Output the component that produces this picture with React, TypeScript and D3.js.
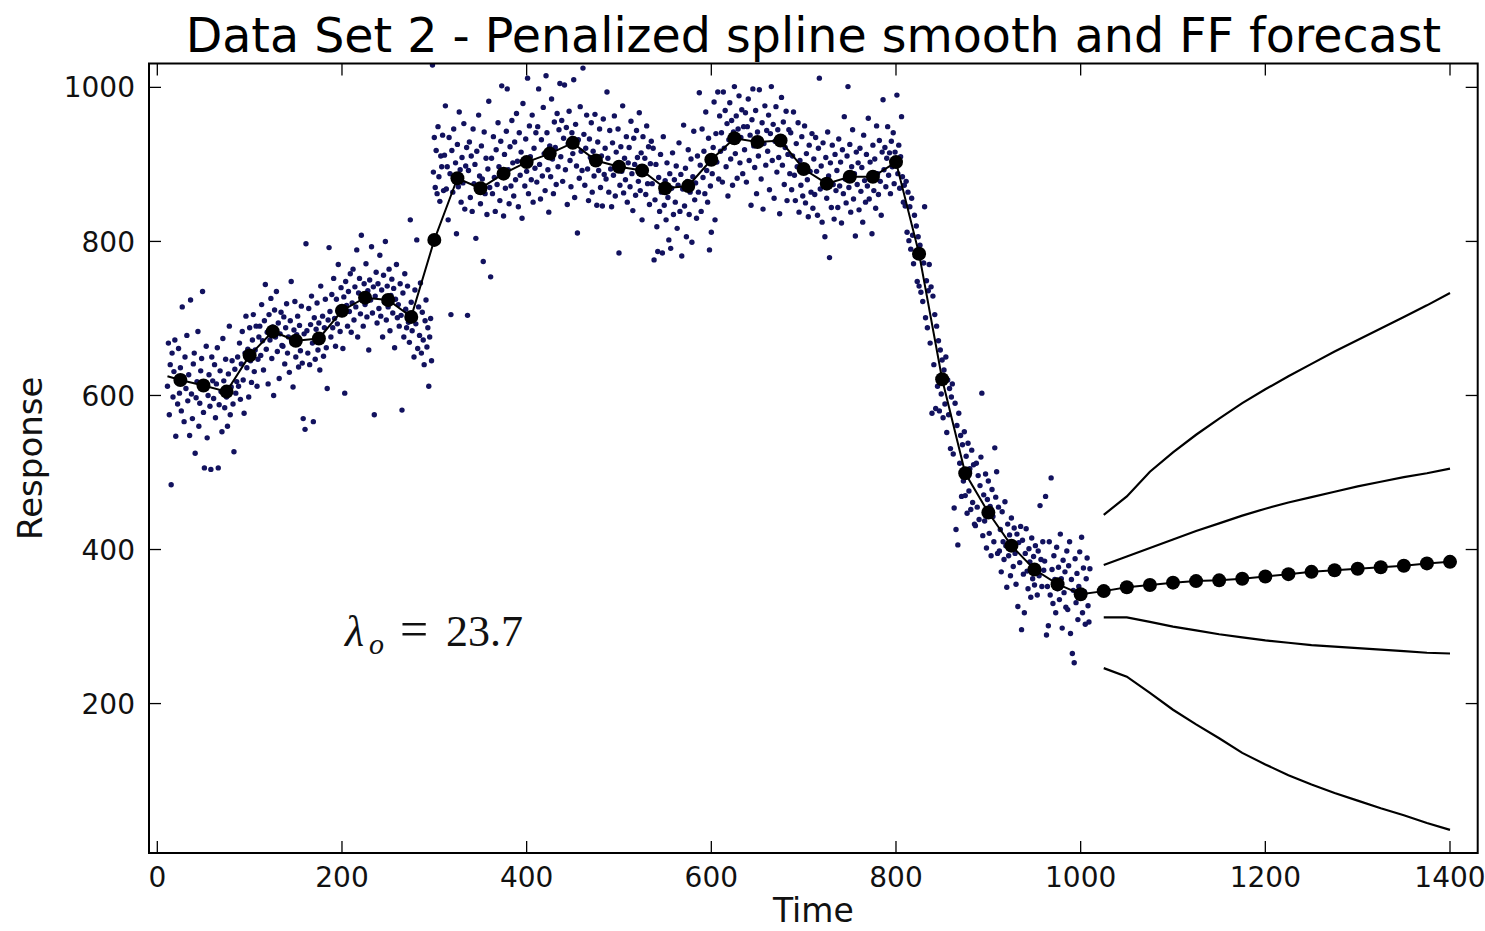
import React from 'react';
import * as d3 from 'd3';

// chart text
const TITLE = 'Data Set 2 - Penalized spline smooth and FF forecast';
const X_LABEL = 'Time';
const Y_LABEL = 'Response';
const LAMBDA_VALUE = '23.7';

// axes
const X_DOMAIN = [-9, 1430];
const Y_DOMAIN = [6, 1031];
const X_TICKS = [0, 200, 400, 600, 800, 1000, 1200, 1400];
const Y_TICKS = [200, 400, 600, 800, 1000];

// observed responses, one per time unit starting at OBS_FIRST_TIME
const OBS_FIRST_TIME = 11;
const responseObs = [
  612, 668, 575, 640, 484, 655, 598, 631, 672, 547, 620, 589, 661, 603, 636, 580, 715, 624, 566, 650, 609, 678, 593, 627, 548,
  724, 602, 570, 641, 655, 525, 597, 618, 683, 560, 590, 632, 648, 735, 578, 506, 612, 664, 545, 600, 627, 586, 504, 650, 619,
  596, 640, 571, 615, 662, 506, 588, 632, 605, 553, 674, 619, 584, 647, 598, 560, 628, 690, 575, 611, 645, 589, 527, 634, 603,
  618, 650, 612, 668, 595, 641, 683, 620, 577, 655, 703, 636, 660, 598, 688, 645, 617, 672, 705, 631, 659, 690, 612, 647, 676,
  690, 652, 718, 671, 633, 697, 744, 660, 682, 615, 705, 672, 726, 648, 689, 600, 711, 676, 735, 657, 694, 622, 680, 708, 665,
  664, 702, 641, 688, 719, 655, 676, 630, 697, 748, 668, 611, 685, 722, 650, 679, 703, 637, 691, 658, 716, 642, 570, 680, 556,
  797, 684, 655, 713, 640, 692, 729, 668, 566, 701, 647, 686, 720, 659, 694, 633, 742, 677, 703, 651, 688, 725, 662, 609, 698,
  792, 709, 676, 731, 688, 752, 700, 664, 725, 693, 770, 712, 683, 740, 705, 661, 728, 603, 748, 717, 690, 735, 709, 758, 682,
  720, 764, 698, 741, 715, 789, 676, 733, 752, 706, 808, 727, 690, 745, 718, 771, 702, 736, 659, 750, 724, 793, 707, 741, 575,
  729, 760, 694, 745, 713, 782, 703, 737, 676, 756, 721, 800, 698, 742, 715, 764, 684, 730, 751, 707, 739, 662, 725, 770, 701,
  718, 690, 745, 704, 581, 733, 676, 758, 712, 688, 742, 695, 669, 828, 721, 684, 705, 650, 737, 693, 802, 661, 715, 678, 746,
  655, 708, 672, 640, 697, 724, 663, 688, 612, 676, 700, 645, 1029, 890, 935, 870, 918, 862, 949, 884, 852, 911, 897, 938, 866,
  912, 976, 868, 897, 828, 935, 888, 705, 918, 864, 946, 880, 902, 810, 926, 871, 968, 893, 851, 909, 876, 953, 842, 898, 922,
  704, 892, 929, 857, 911, 839, 946, 875, 900, 804, 917, 868, 964, 885, 849, 924, 881, 774, 942, 862, 908, 835, 894, 982, 870,
  754, 908, 862, 936, 883, 839, 919, 874, 954, 897, 853, 930, 1002, 888, 833, 913, 869, 943, 998, 893, 849, 923, 872, 957, 902,
  859, 929, 880, 966, 904, 845, 941, 886, 916, 830, 979, 902, 872, 933, 891, 1012, 862, 950, 910, 880, 964, 851, 921, 895, 941,
  877, 949, 998, 900, 855, 932, 885, 974, 914, 866, 1015, 941, 893, 838, 924, 884, 985, 907, 862, 955, 922, 874, 966, 897, 945,
  1005, 910, 957, 878, 934, 1003, 893, 948, 848, 927, 969, 905, 871, 941, 914, 1010, 857, 952, 898, 811, 932, 882, 975, 917, 892,
  1025, 939, 873, 921, 964, 894, 853, 933, 909, 954, 864, 917, 885, 965, 902, 847, 929, 892, 946, 870, 911, 846, 959, 887, 921,
  881, 994, 908, 864, 944, 894, 845, 928, 886, 963, 859, 916, 901, 946, 785, 873, 923, 891, 976, 863, 908, 880, 936, 851, 902,
  922, 871, 956, 888, 840, 934, 900, 860, 944, 909, 878, 967, 866, 915, 828, 936, 891, 908, 861, 950, 875, 923, 848, 901, 930,
  875, 921, 776, 854, 900, 819, 787, 883, 839, 913, 864, 785, 936, 847, 879, 828, 902, 857, 802, 888, 791, 869, 915, 835, 880,
  851, 898, 817, 873, 928, 839, 887, 781, 868, 951, 846, 895, 806, 878, 919, 835, 864, 907, 799, 884, 943, 854, 876, 830, 911,
  864, 993, 899, 839, 946, 883, 917, 862, 968, 892, 851, 934, 789, 872, 812, 888, 922, 981, 828, 940, 903, 994, 881, 963, 917,
  941, 877, 994, 921, 970, 897, 953, 859, 932, 980, 907, 957, 873, 942, 1001, 914, 963, 882, 946, 989, 902, 935, 971, 888, 949,
  919, 967, 877, 949, 985, 905, 938, 847, 958, 998, 924, 896, 970, 862, 942, 911, 997, 931, 881, 954, 842, 927, 976, 899, 944,
  917, 964, 867, 940, 1001, 905, 952, 856, 930, 975, 890, 945, 909, 836, 934, 987, 899, 955, 874, 922, 969, 853, 913, 945, 888,
  941, 867, 911, 968, 886, 853, 927, 897, 954, 838, 905, 873, 936, 859, 894, 950, 850, 914, 880, 832, 925, 891, 864, 940, 843,
  907, 861, 935, 891, 834, 921, 1012, 868, 898, 825, 928, 879, 806, 909, 856, 942, 885, 779, 902, 844, 925, 874, 829, 913, 866,
  892, 844, 933, 872, 903, 824, 919, 862, 962, 881, 850, 911, 1001, 870, 926, 838, 897, 945, 855, 888, 807, 916, 874, 902, 841,
  921, 865, 896, 825, 938, 879, 851, 913, 872, 960, 855, 903, 883, 810, 925, 866, 907, 843, 950, 888, 861, 931, 878, 834, 916,
  984, 893, 922, 871, 908, 949, 886, 915, 862, 930, 897, 941, 875, 916, 902, 990, 888, 925, 869, 910, 962, 884, 851, 873, 846,
  878, 812, 864, 801, 845, 790, 856, 808, 771, 834, 781, 820, 748, 806, 742, 795, 734, 781, 722, 772, 845, 701, 749, 688, 736,
  770, 668, 741, 577, 729, 640, 705, 583, 690, 612, 671, 580, 659, 602, 646, 571, 633, 589, 650, 552, 620, 575, 609, 531, 598,
  615, 524, 454, 590, 426, 561, 406, 577, 512, 548, 469, 536, 489, 553, 470, 521, 447, 538, 476, 505, 452, 529, 461, 510, 433,
  431, 512, 455, 496, 439, 483, 520, 603, 418, 471, 437, 498, 402, 465, 489, 421, 456, 392, 478, 443, 410, 532, 468, 501, 395,
  455, 398, 426, 371, 449, 410, 387, 462, 405, 351, 433, 392, 419, 366, 441, 402, 378, 428, 395, 355, 420, 326, 409, 383, 430,
  296, 412, 368, 318, 395, 427, 372, 349, 401, 384, 338, 415, 362, 391, 354, 405, 376, 341, 398, 366, 457, 387, 352, 410, 373,
  385, 469, 289, 352, 301, 410, 341, 493, 374, 330, 392, 361, 318, 403, 349, 377, 335, 420, 362, 298, 386, 344, 371, 325, 398,
  322, 379, 410, 291, 361, 265, 347, 253, 388, 331, 369, 309, 352, 397, 338, 416, 318, 376, 345, 303, 362, 389, 327, 306, 375,
];

// penalized spline smooth: start point, then knots every 25
const SMOOTH_START: [number, number] = [11, 625];
const knotTimes = d3.range(25, 1001, 25);
const smoothValues = [
  620, 613, 605, 652, 683, 671, 674, 710, 727, 724, 702, 802, 882, 869, 888, 903, 914, 928, 905, 897,
  892, 869, 872, 906, 934, 929, 931, 894, 875, 884, 884, 903, 784, 621, 499, 448, 405, 374, 355, 342,
];

// FF forecast and its two bands
const forecastTimes = d3.range(1025, 1401, 25);
const forecastValues = [346, 351, 354, 357, 359, 360, 362, 365, 368, 371, 373, 375, 377, 379, 382, 384];
const outerUpper = [445, 469, 501, 526, 549, 570, 590, 608, 625, 641, 657, 672, 687, 702, 717, 733];
const innerUpper = [380, 391, 402, 413, 424, 434, 444, 453, 461, 468, 475, 482, 488, 494, 499, 505];
const innerLower = [312, 312, 306, 300, 295, 290, 286, 282, 279, 276, 274, 272, 270, 268, 266, 265];
const outerLower = [246, 235, 214, 192, 173, 155, 136, 121, 107, 95, 84, 74, 64, 55, 45, 36];

export default function App() {
  const width = 1485;
  const height = 931;
  const plot = { left: 149, right: 1477.7, top: 63.5, bottom: 853 };
  const tickLen = 12;
  const sans = '"DejaVu Sans", sans-serif';

  const x = d3.scaleLinear().domain(X_DOMAIN).range([plot.left, plot.right]);
  const y = d3.scaleLinear().domain(Y_DOMAIN).range([plot.bottom, plot.top]);
  const line = d3.line<[number, number]>().x(d => x(d[0])).y(d => y(d[1]));

  const obs: [number, number][] = responseObs.map((v, i) => [OBS_FIRST_TIME + i, v]);
  const knots: [number, number][] = knotTimes.map((t, i) => [t, smoothValues[i]]);
  const smooth = [SMOOTH_START, ...knots];
  const forecast: [number, number][] = forecastTimes.map((t, i) => [t, forecastValues[i]]);
  const forecastPath = [knots[knots.length - 1], ...forecast];
  const bands = [outerUpper, innerUpper, innerLower, outerLower].map(
    vals => forecastTimes.map((t, i) => [t, vals[i]] as [number, number])
  );

  return (
    <div style={{ position: 'absolute', left: 0, top: 0 }}>
      <svg width={width} height={height} style={{ display: 'block', background: '#fff' }}>
        <defs>
          <clipPath id="plotArea">
            <rect x={plot.left} y={plot.top} width={plot.right - plot.left} height={plot.bottom - plot.top} />
          </clipPath>
        </defs>

        <text x={(plot.left + plot.right) / 2} y={51.5} textAnchor="middle"
          fontFamily={sans} fontSize={47.5} fill="#000">{TITLE}</text>

        <g clipPath="url(#plotArea)">
          {/* data points */}
          {obs.map((d, i) => (
            <circle key={i} cx={x(d[0])} cy={y(d[1])} r={2.7} fill="#12125e" />
          ))}

          {/* smooth */}
          <path d={line(smooth) || ''} fill="none" stroke="#000" strokeWidth={2} />
          {knots.map((d, i) => (
            <circle key={'k' + i} cx={x(d[0])} cy={y(d[1])} r={7} fill="#000" />
          ))}

          {/* forecast */}
          <path d={line(forecastPath) || ''} fill="none" stroke="#000" strokeWidth={2} />
          {forecast.map((d, i) => (
            <circle key={'f' + i} cx={x(d[0])} cy={y(d[1])} r={7} fill="#000" />
          ))}
          {bands.map((b, i) => (
            <path key={'b' + i} d={line(b) || ''} fill="none" stroke="#000" strokeWidth={2.2} />
          ))}
        </g>

        {/* ticks on all four sides, pointing in */}
        <g stroke="#000" strokeWidth={1.3}>
          {X_TICKS.map(t => (
            <g key={'xt' + t}>
              <line x1={x(t)} x2={x(t)} y1={plot.bottom} y2={plot.bottom - tickLen} />
              <line x1={x(t)} x2={x(t)} y1={plot.top} y2={plot.top + tickLen} />
            </g>
          ))}
          {Y_TICKS.map(t => (
            <g key={'yt' + t}>
              <line x1={plot.left} x2={plot.left + tickLen} y1={y(t)} y2={y(t)} />
              <line x1={plot.right} x2={plot.right - tickLen} y1={y(t)} y2={y(t)} />
            </g>
          ))}
        </g>
        <rect x={plot.left} y={plot.top} width={plot.right - plot.left} height={plot.bottom - plot.top}
          fill="none" stroke="#000" strokeWidth={2} />

        {/* tick labels */}
        <g fontFamily={sans} fontSize={28} fill="#111">
          {X_TICKS.map(t => (
            <text key={'xl' + t} x={x(t)} y={887} textAnchor="middle">{t}</text>
          ))}
          {Y_TICKS.map(t => (
            <text key={'yl' + t} x={plot.left - 14} y={y(t)} dy="0.36em" textAnchor="end">{t}</text>
          ))}
        </g>

        <text x={(plot.left + plot.right) / 2} y={922} textAnchor="middle"
          fontFamily={sans} fontSize={33} fill="#111">{X_LABEL}</text>
        <text transform={`translate(42,${(plot.top + plot.bottom) / 2}) rotate(-90)`} textAnchor="middle"
          fontFamily={sans} fontSize={34} fill="#111">{Y_LABEL}</text>

        {/* smoothing parameter */}
        <text fontFamily='"Liberation Serif", serif' fontSize={44} fill="#111">
          <tspan x={345} y={646} fontStyle="italic">λ</tspan>
          <tspan x={369} y={654} fontSize={30} fontStyle="italic">o</tspan>
          <tspan x={400} y={646} fontSize={50}>=</tspan>
          <tspan x={446} y={646}>{LAMBDA_VALUE}</tspan>
        </text>
      </svg>
    </div>
  );
}
